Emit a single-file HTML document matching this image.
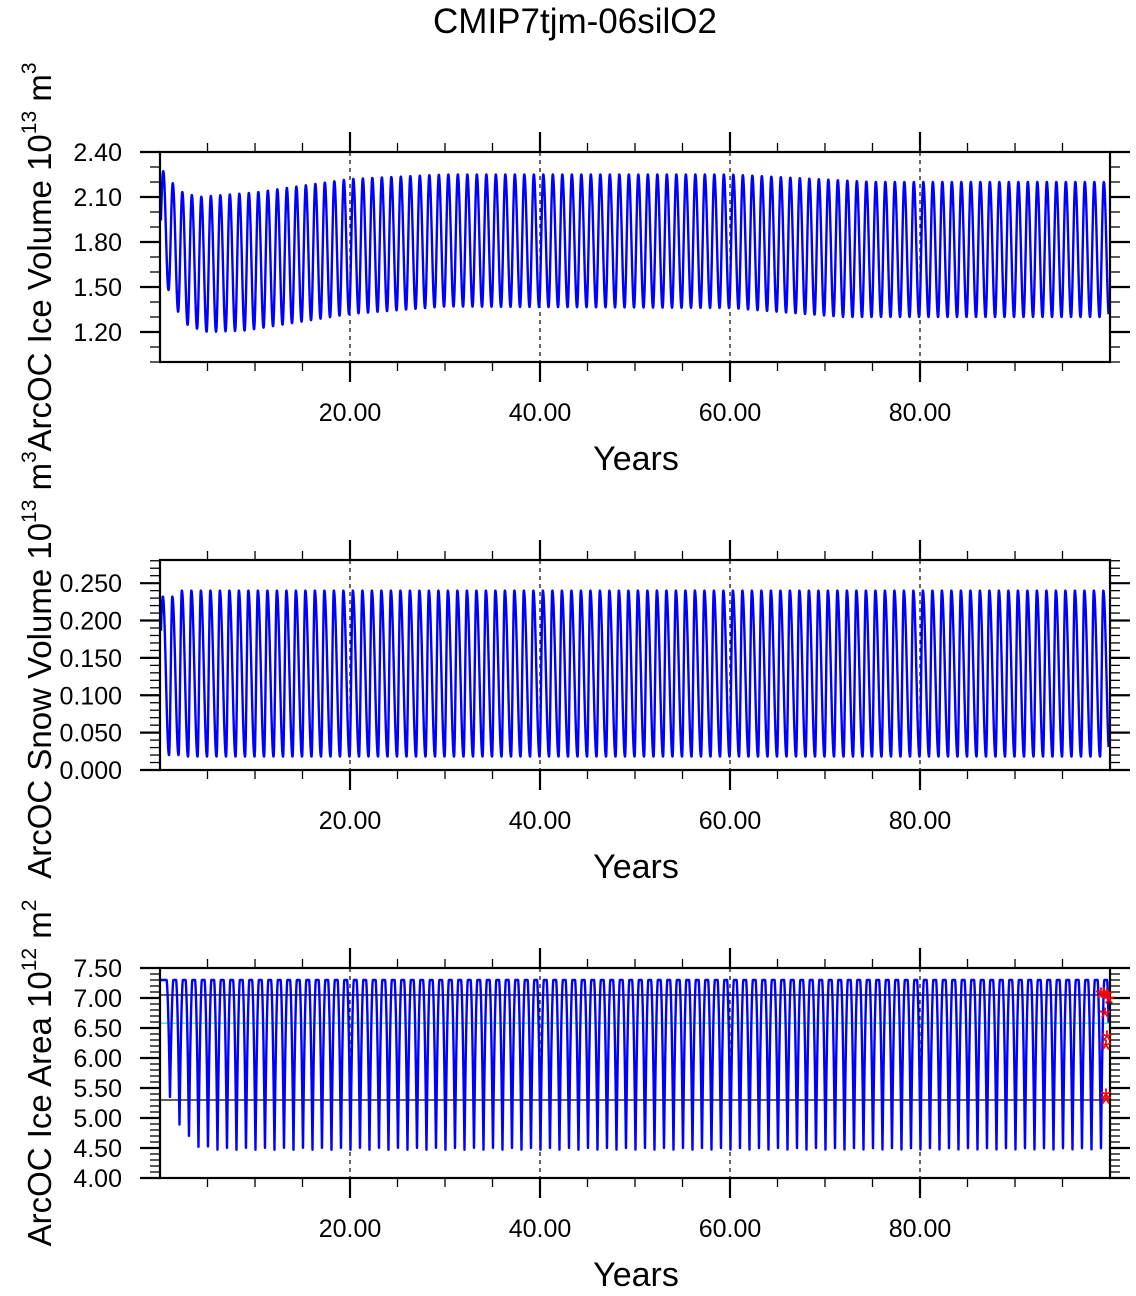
<!DOCTYPE html>
<html><head><meta charset="utf-8"><style>
html,body{margin:0;padding:0;background:#fff;}
svg text{font-family:"Liberation Sans",Helvetica,sans-serif;fill:#000;}
</style></head><body>
<svg id="s" width="1136" height="1291" xmlns="http://www.w3.org/2000/svg">
<text x="575" y="33" font-size="35" text-anchor="middle">CMIP7tjm-06silO2</text>
</svg>
<script>
const S=document.getElementById('s');const NS='http://www.w3.org/2000/svg';
function el(t,a,txt){const e=document.createElementNS(NS,t);for(const k in a)e.setAttribute(k,a[k]);if(txt!==undefined)e.textContent=txt;S.appendChild(e);return e;}
const X0=160,X1=1110;const xp=t=>X0+t*9.5;
function interp(pts,t){for(let i=0;i<pts.length-1;i++){if(t<=pts[i+1][0]){const a=pts[i],b=pts[i+1];return a[1]+(b[1]-a[1])*(t-a[0])/(b[0]-a[0]);}}return pts[pts.length-1][1];}
function panel(top,ymin,ymax,majors,fmt,minorStep,label,sup,unit,series,extras,stars){
  const bot=top+210;const yp=v=>bot-(v-ymin)/(ymax-ymin)*210;
  [20,40,60,80].forEach(t=>el('line',{x1:xp(t),x2:xp(t),y1:top,y2:bot,stroke:'#000','stroke-width':1.2,'stroke-dasharray':'4,4'}));
  if(extras)extras(yp);
  let d='';const N=20000;for(let i=0;i<=N;i++){const t=0.1+i*(99.75/N);const v=series(t);d+=(i?'L':'M')+xp(t).toFixed(2)+','+yp(v).toFixed(2);}
  el('path',{d:d,fill:'none',stroke:'#0000ff','stroke-width':2.4,'stroke-linejoin':'round'});
  el('rect',{x:X0,y:top,width:X1-X0,height:210,fill:'none',stroke:'#000','stroke-width':2.2});
  for(let t=5;t<100;t+=5){const maj=t%20==0;const L=maj?20:9;
    el('line',{x1:xp(t),x2:xp(t),y1:top,y2:top-L,stroke:'#000','stroke-width':maj?2.2:1.3});
    el('line',{x1:xp(t),x2:xp(t),y1:bot,y2:bot+L,stroke:'#000','stroke-width':maj?2.2:1.3});
    if(maj)el('text',{x:xp(t),y:bot+59,'font-size':25,'text-anchor':'middle'},t.toFixed(2));}
  for(let v=ymin;v<=ymax+1e-9;v+=minorStep){const y=yp(v);if(y<top-0.5)continue;
    const maj=majors.some(m=>Math.abs(m-v)<minorStep/3);const L=maj?20:10;
    el('line',{x1:X0,x2:X0-L,y1:y,y2:y,stroke:'#000','stroke-width':maj?2.2:1.3});
    el('line',{x1:X1,x2:X1+L,y1:y,y2:y,stroke:'#000','stroke-width':maj?2.2:1.3});}
  majors.forEach(m=>el('text',{x:122,y:yp(m)+9,'font-size':25,'text-anchor':'end'},fmt(m)));
  el('text',{x:636,y:bot+108,'font-size':34,'text-anchor':'middle'},'Years');
  const cy=top+105;
  const tx=el('text',{x:0,y:0,'font-size':33,'text-anchor':'middle',transform:`translate(51,${cy}) rotate(-90)`});
  tx.innerHTML=label+' 10<tspan font-size="21" dy="-15">'+sup+'</tspan><tspan dy="15"> m</tspan><tspan font-size="21" dy="-15">'+unit+'</tspan>';
  if(stars)stars(yp);
}
const f2=v=>v.toFixed(2),f3=v=>v.toFixed(3);
const mx1=[[0,2.3],[1,2.22],[2,2.14],[4,2.1],[10,2.13],[20,2.22],[30,2.25],[60,2.25],[75,2.2],[100,2.2]];
const mn1=[[0,1.48],[1,1.48],[2,1.32],[3,1.24],[5,1.2],[9,1.21],[20,1.32],[30,1.37],[60,1.36],[72,1.3],[100,1.3]];
panel(152,1.0,2.4,[1.2,1.5,1.8,2.1,2.4],f2,0.1,'ArcOC Ice Volume','13','3',t=>{
  const ph=(t-0.35)%1;let c;if(ph<0.55)c=0.5-0.5*Math.cos(Math.PI*ph/0.55);else c=0.5+0.5*Math.cos(Math.PI*(ph-0.55)/0.45);
  const hi=interp(mx1,t),lo=interp(mn1,t);return lo+(hi-lo)*(1-c);});
panel(560,0,0.281,[0,0.05,0.1,0.15,0.2,0.25],f3,0.01,'ArcOC Snow Volume','13','3',t=>{
  const ph=(t-0.3)%1;let c;if(ph<0.65)c=0.5-0.5*Math.cos(Math.PI*ph/0.65);else c=0.5+0.5*Math.cos(Math.PI*(ph-0.65)/0.35);
  const hi=t<2?0.232:0.24,lo=t<2?0.02:0.018;return hi-(hi-lo)*c;});
const mn3=[[0,5.35],[1,5.35],[2,4.9],[3,4.68],[4,4.52],[6,4.47],[100,4.47]];
panel(968,4.0,7.5,[4,4.5,5,5.5,6,6.5,7,7.5],f2,0.1,'ArcOC Ice Area','12','2',t=>{
  const ph=(t-0.55)%1;const d=Math.abs(ph-0.5);let c;if(d>0.36)c=0;else c=Math.pow(1-d/0.36,1.7);
  const lo=interp(mn3,t);return 7.3-(7.3-lo)*c;},
  yp=>{el('line',{x1:X0,x2:X1,y1:yp(7.05),y2:yp(7.05),stroke:'#000','stroke-width':1.2});
       el('line',{x1:X0,x2:X1,y1:yp(5.3),y2:yp(5.3),stroke:'#000','stroke-width':1.2});
       el('line',{x1:X0,x2:X1,y1:yp(6.58),y2:yp(6.58),stroke:'#00e0ff','stroke-width':1.2});},
  yp=>{[[1101,7.05],[1104,7.05],[1107,7.03],[1109,6.95],[1105,6.72],[1107,6.33],[1106,6.18],[1106,5.37],[1106,5.28]].forEach(p=>{
         el('text',{x:p[0],y:yp(p[1])+13,'font-size':30,'text-anchor':'middle',style:'fill:#f00'},'*');});});
</script>
</body></html>
